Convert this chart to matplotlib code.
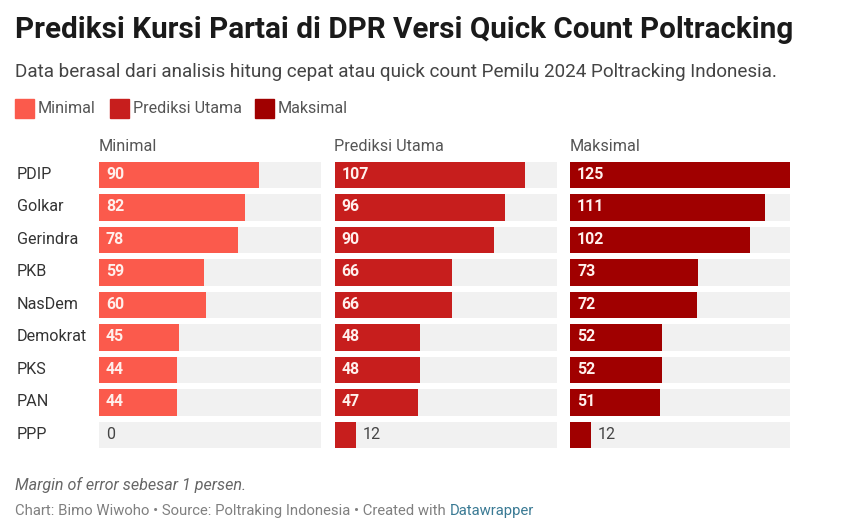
from matplotlib import pyplot as plt


def run() -> None:
    partai = ["PDIP", "Golkar", "Gerindra", "PKB", "NasDem", "Demokrat", "PKS", "PAN", "PPP"]
    minimal = [90, 82, 78, 59, 60, 45, 44, 44, 0]
    utama = [107, 96, 90, 66, 66, 48, 48, 47, 12]
    maksimal = [125, 111, 102, 73, 72, 52, 52, 51, 12]

    plt.rcParams["font.family"] = "Roboto"

    # Set up the figure at the size of the reference
    fig = plt.figure(figsize=(8.48, 5.22), dpi=100)
    fig.patch.set_facecolor("white")

    # Title block, positions in figure fractions
    fig.text(15 / 848, 1 - 30 / 522, "Prediksi Kursi Partai di DPR Versi Quick Count Poltracking",
             fontsize=21.3, fontweight="bold", color="#1a1a1a", ha="left", va="center")
    fig.text(15 / 848, 1 - 72 / 522, "Data berasal dari analisis hitung cepat atau quick count Pemilu 2024 Poltracking Indonesia.",
             fontsize=13.6, color="#444444", ha="left", va="center")

    # Legend is drawn by hand as small swatches
    legend = [(15, "#fb5a4c", "Minimal"), (110, "#c71e1d", "Prediksi Utama"), (255, "#a00000", "Maksimal")]
    for x, color, name in legend:
        fig.patches.append(plt.Rectangle((x / 848, 1 - 118 / 522), 19 / 848, 19 / 522, color=color,
                                         transform=fig.transFigure, figure=fig))
        fig.text((x + 23) / 848, 1 - 108.5 / 522, name, fontsize=11.6, color="#555555", ha="left", va="center")

    # One panel per scenario
    panels = [
        (99, 222, minimal, "#fb5a4c", "Minimal"),
        (334.5, 222, utama, "#c71e1d", "Prediksi Utama"),
        (570, 220, maksimal, "#a00000", "Maksimal"),
    ]
    for i, (left, width, values, color, name) in enumerate(panels):
        ax = fig.add_axes((left / 848, 1 - 451.25 / 522, width / 848, 292.5 / 522))
        ax.barh(partai, [125] * len(partai), height=0.83, color="#f1f1f1")
        ax.barh(partai, values, height=0.83, color=color)

        ax.set_xlim(0, 125)
        ax.set_ylim(8.5, -0.5)  # first party on top
        for spine in ax.spines.values():
            spine.set_visible(False)
        ax.set_xticks([])
        ax.set_yticks([])

        # Party names only next to the first panel
        if i == 0:
            for j, party in enumerate(partai):
                ax.text(-82 * 125 / width, j - 0.03, party, fontsize=11.6, color="#333333",
                        ha="left", va="center", clip_on=False)

        # Value labels, inside the bar when it is long enough
        for j, value in enumerate(values):
            if value > 20:
                ax.text(7 * 125 / width, j - 0.03, str(value), color="#fff0ec", fontsize=11.4, fontweight="bold",
                        ha="left", va="center")
            else:
                ax.text(value + 7 * 125 / width, j - 0.03, str(value), color="#444444", fontsize=11.5,
                        ha="left", va="center")

        ax.text(0, 1.017, name, transform=ax.transAxes, fontsize=11.7, color="#555555",
                ha="left", va="bottom")

    fig.text(15 / 848, 1 - 485 / 522, "Margin of error sebesar 1 persen.", fontsize=11.6, fontstyle="italic",
             color="#666666", ha="left", va="center")
    footer = fig.text(15 / 848, 1 - 511 / 522, "Chart: Bimo Wiwoho • Source: Poltraking Indonesia • Created with ",
                      fontsize=10.7, color="#808080", ha="left", va="center")
    fig.canvas.draw()
    box = footer.get_window_extent()
    fig.text(box.x1 / 848, 1 - 511 / 522, "Datawrapper", fontsize=10.7, color="#3a7a94", ha="left", va="center")

    plt.savefig("out.png", dpi=100)


if __name__ == "__main__":
    run()
